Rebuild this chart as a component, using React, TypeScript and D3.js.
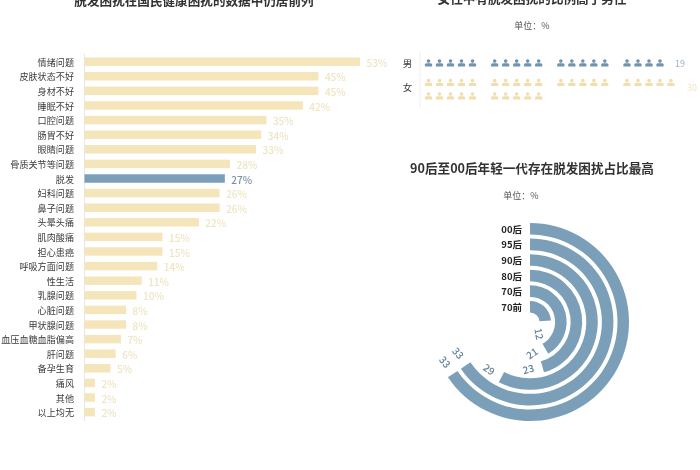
import React from "react";
import * as d3 from "d3";

const causes = ["情绪问题","皮肤状态不好","身材不好","睡眠不好","口腔问题","肠胃不好","眼睛问题","骨质关节等问题","脱发","妇科问题","鼻子问题","头晕头痛","肌肉酸痛","担心患癌","呼吸方面问题","性生活","乳腺问题","心脏问题","甲状腺问题","血压血糖血脂偏高","肝问题","备孕生育","痛风","其他","以上均无"];
const causeValues = [53,45,45,42,35,34,33,28,27,26,26,22,15,15,14,11,10,8,8,7,6,5,2,2,2];
const highlight = "脱发";
const genders = ["男","女"];
const genderValues = [19,30];
const ages = ["70前","70后","80后","90后","95后","00后"];
const ageValues = [12,21,23,29,33,33];
const ageLabelTilt = [78,-35,-14,36,50,50];

const title1 = "脱发困扰在国民健康困扰的数据中仍居前列";
const title2 = "女性中有脱发困扰的比例高于男性";
const title3 = "90后至00后年轻一代存在脱发困扰占比最高";
const unit = "单位：%";

const BLUE = "#7c9fb9";
const SAND = "#f5e5bb";
const PALE = "#eee5c3";
const FONT = "'Noto Sans CJK SC','Noto Sans',sans-serif";

function Person({ x, y, fill }: { x: number; y: number; fill: string }) {
  return (
    <g transform={`translate(${x},${y})`} fill={fill}>
      <circle cx={0} cy={-1.9} r={1.8} />
      <path d="M-3.6,3.4 V1.6 Q-3.6,0.2 -1.6,0.2 H1.6 Q3.6,0.2 3.6,1.6 V3.4 Z" />
    </g>
  );
}

function Bars() {
  const x = d3.scaleLinear().domain([0, 53]).range([84.5, 360]);
  const y = d3.scaleBand().domain(causes).range([54.4, 419.4]).paddingInner(0.42).paddingOuter(0.21);
  return (
    <g>
      <line x1={84.5} x2={84.5} y1={54} y2={421} stroke="#e6e6e6" strokeWidth={1} />
      {causes.map((c, i) => {
        const cy = y(c)! + y.bandwidth() / 2;
        const on = c === highlight;
        return (
          <g key={c}>
            <rect x={x(0)} y={y(c)} width={x(causeValues[i]) - x(0)} height={y.bandwidth()} fill={on ? BLUE : SAND} />
            <text x={74} y={cy} textAnchor="end" dominantBaseline="central" fontSize={9.1} fill="#3a3a3a">{c}</text>
            <text x={x(causeValues[i]) + 6.5} y={cy + 0.5} dominantBaseline="central" fontSize={10} fontWeight={500} fill={on ? "#7c93a6" : PALE}>{causeValues[i]}%</text>
          </g>
        );
      })}
    </g>
  );
}

function Pictogram() {
  const perGroup = 5;
  const groups = 4;
  const col = d3.scaleLinear().domain([0, 4]).range([428.5, 472.5]);
  const group = d3.scaleLinear().domain([0, 3]).range([0, 198.5]);
  const rowY = [[63], [82.5, 96]];
  const colours = ["#6f93ae", "#f1deae"];
  return (
    <g>
      <line x1={420} x2={420} y1={52} y2={108} stroke="#efefef" />
      {genders.map((g, gi) => {
        const n = genderValues[gi];
        const cells = d3.range(n).map((k) => {
          const capacity = groups * perGroup;
          const row = Math.floor(k / capacity);
          const inRow = k % capacity;
          const gr = Math.floor(inRow / perGroup);
          return { k, cx: group(gr) + col(inRow % perGroup), cy: rowY[gi][row] };
        });
        const lastX = d3.max(cells.filter((c) => c.cy === rowY[gi][0]), (c) => c.cx)!;
        return (
          <g key={g}>
            <text x={407.5} y={gi === 0 ? 63 : 87} textAnchor="middle" dominantBaseline="central" fontSize={9.5} fill="#3a3a3a">{g}</text>
            {cells.map((c) => <Person key={c.k} x={c.cx} y={c.cy} fill={colours[gi]} />)}
            <text x={lastX + (gi === 0 ? 15 : 16)} y={gi === 0 ? 63 : 87} dominantBaseline="central" fontSize={9} fill={gi === 0 ? "#9fb2c1" : PALE}>{n}</text>
          </g>
        );
      })}
    </g>
  );
}

function Radial() {
  const cx = 530;
  const cy = 322;
  const r = d3.scaleBand().domain(ages).range([9.5, 99]).paddingInner(0.26);
  const angle = d3.scaleLinear().domain([0, 33]).range([0, (236 * Math.PI) / 180]);
  const arc = d3.arc<any>();
  return (
    <g transform={`translate(${cx},${cy})`}>
      {ages.map((a, i) => {
        const inner = r(a)!;
        const outer = inner + r.bandwidth();
        const end = angle(ageValues[i]);
        const mid = (inner + outer) / 2;
        const la = end + 14.5 / mid;
        const lx = Math.sin(la) * mid;
        const ly = -Math.cos(la) * mid;
        return (
          <g key={a}>
            <path d={arc({ innerRadius: inner, outerRadius: outer, startAngle: 0, endAngle: end })!} fill={BLUE} />
            <text x={-8} y={-mid} textAnchor="end" dominantBaseline="central" fontSize={9.5} fontWeight={700} fill="#222">{a}</text>
            <text transform={`translate(${lx},${ly}) rotate(${ageLabelTilt[i]})`} textAnchor="middle" dominantBaseline="central" fontSize={10} fontWeight={500} fill="#5f7f99">{ageValues[i]}</text>
          </g>
        );
      })}
    </g>
  );
}

export default function App() {
  return (
    <svg width={700} height={470} viewBox="0 0 700 470" style={{ position: "absolute", left: 0, top: 0, background: "#fff", fontFamily: FONT }}>
      <defs>
        <filter id="soft" x="0" y="0" width="700" height="470" filterUnits="userSpaceOnUse" primitiveUnits="userSpaceOnUse">
          <feGaussianBlur stdDeviation="0.35" />
        </filter>
      </defs>
      <g filter="url(#soft)">
        <rect width={700} height={470} fill="#fff" />
        <text x={194} y={-0.5} textAnchor="middle" dominantBaseline="central" fontSize={12.6} fontWeight={700} fill="#333">{title1}</text>
        <text x={532} y={-3} textAnchor="middle" dominantBaseline="central" fontSize={12.6} fontWeight={700} fill="#333">{title2}</text>
        <text x={532} y={25} textAnchor="middle" dominantBaseline="central" fontSize={9} fill="#555">{unit}</text>
        <text x={532} y={167} textAnchor="middle" dominantBaseline="central" fontSize={12.6} fontWeight={700} fill="#333">{title3}</text>
        <text x={521} y={195} textAnchor="middle" dominantBaseline="central" fontSize={9} fill="#555">{unit}</text>
        <Bars />
        <Pictogram />
        <Radial />
      </g>
    </svg>
  );
}
